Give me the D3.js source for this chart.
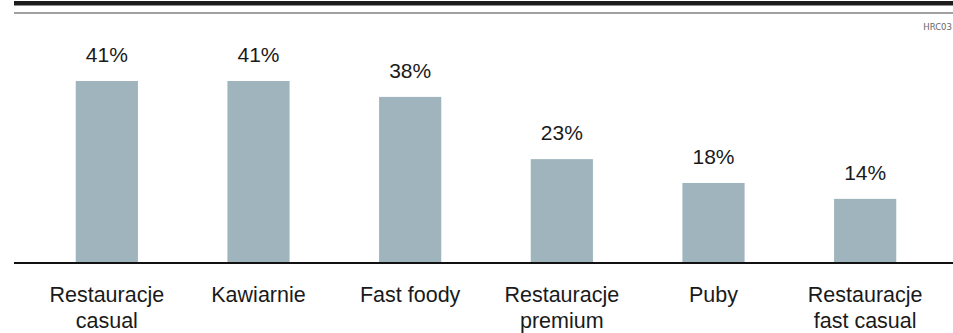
<!DOCTYPE html>
<html><head><meta charset="utf-8">
<script src="https://cdn.jsdelivr.net/npm/d3@7"></script>
<style>body{margin:0;background:#fff}svg{display:block}</style>
</head><body>
<script>
const categories = [["Restauracje","casual"],["Kawiarnie"],["Fast foody"],["Restauracje","premium"],["Puby"],["Restauracje","fast casual"]];
const values = [41, 41, 37.4, 23.3, 17.9, 14.3];
const valueLabels = ["41%","41%","38%","23%","18%","14%"];
const code = "HRC03";

const W = 953, H = 333;
const svg = d3.select("body").append("svg").attr("width", W).attr("height", H);

svg.append("rect").attr("x",14).attr("y",1).attr("width",W-14).attr("height",4.5).attr("fill","#1c1c1c");
svg.append("rect").attr("x",14).attr("y",12).attr("width",W-14).attr("height",2).attr("fill","#a0a0a0");
svg.append("text").attr("x",952).attr("y",30).attr("text-anchor","end")
  .attr("font-family","DejaVu Sans Condensed, DejaVu Sans").attr("font-size",9.5).attr("fill","#666").text(code);

const x = d3.scaleBand().domain(d3.range(values.length)).range([31, 941]).paddingInner(0.59).paddingOuter(0.295);
const y = d3.scaleLinear().domain([0, 41]).range([262, 81]);

svg.selectAll("rect.bar").data(values).join("rect").attr("class","bar")
  .attr("x",(d,i)=>x(i)).attr("width",x.bandwidth())
  .attr("y",d=>y(d)).attr("height",d=>y(0)-y(d)).attr("fill","#9fb4bd");

svg.selectAll("text.val").data(values).join("text").attr("class","val")
  .attr("x",(d,i)=>x(i)+x.bandwidth()/2).attr("y",d=>y(d)-19)
  .attr("text-anchor","middle").attr("font-family","Liberation Sans, Arial, sans-serif")
  .attr("font-size",21).attr("fill","#1a1a1a").text((d,i)=>valueLabels[i]);

svg.append("rect").attr("x",14).attr("y",262).attr("width",W-14).attr("height",2).attr("fill","#111");

const cat = svg.selectAll("text.cat").data(categories).join("text").attr("class","cat")
  .attr("text-anchor","middle").attr("font-family","Liberation Sans, Arial, sans-serif")
  .attr("font-size",21.5).attr("fill","#1a1a1a");
cat.each(function(lines,i){
  const t = d3.select(this);
  lines.forEach((l,j)=>{
    t.append("tspan").attr("x",x(i)+x.bandwidth()/2).attr("y",302+j*26).text(l);
  });
});
</script>
</body></html>
